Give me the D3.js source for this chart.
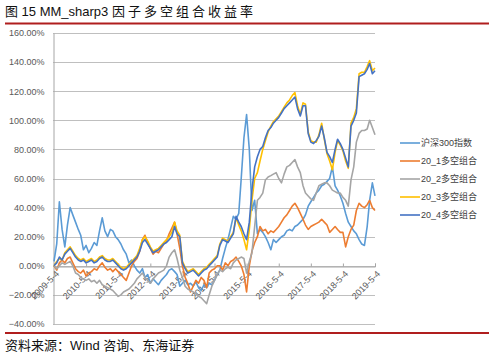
<!DOCTYPE html>
<html>
<head>
<meta charset="utf-8">
<title>MM_sharp3 因子多空组合收益率</title>
<script src="https://cdnjs.cloudflare.com/ajax/libs/d3/7.8.5/d3.min.js"></script>
<style>
    body { margin: 0; background: #fff; }
    svg { display: block; }
    .cn { font-family: "Liberation Sans", Arial, "Noto Sans CJK SC", sans-serif; }
</style>
</head>
<body>
<div id="chart"></div>
<script>
// monthly readings, starting 2009-5-4 (values in %)
const startDate = new Date(2009, 4, 4);
const endDate = new Date(2019, 4, 4);
const seriesNames = ['沪深300指数', '20_1多空组合', '20_2多空组合', '20_3多空组合', '20_4多空组合'];
const seriesColors = ['#5B9BD5', '#ED7D31', '#A5A5A5', '#FFC000', '#4472C4'];
const yTicks = [-40, -20, 0, 20, 40, 60, 80, 100, 120, 140, 160];
const xTickLabels = ['2009-5-4', '2010-5-4', '2011-5-4', '2012-5-4', '2013-5-4', '2014-5-4',
                     '2015-5-4', '2016-5-4', '2017-5-4', '2018-5-4', '2019-5-4'];

const hs300 = [3, 15, 44, 25, 13, 28, 40, 35, 30, 25, 21, 11, 14, 9, 12, 16, 14, 24, 33, 24,
    20, 25, 24, 20, 18, 15, 11, 8, 2, 4, 0, -3, -5, -2, -8, -6, -12, -9, -11, -13,
    -10, -8, -6, -3, -2, -4, -6, -14, -12, -10, -13, -12, -14, -11, -15, -17, -13, -15, -12, -13,
    -10, -6, -3, 5, 12, 18, 26, 34, 32, 36, 60, 88, 104, 80, 38, 45, 22, 25, 23, 20,
    16, 11, 18, 16, 18, 20, 21, 24, 25, 24, 27, 28, 30, 32, 35, 41, 44, 47, 50, 52,
    55, 56, 58, 60, 68, 55, 52, 48, 43, 36, 30, 27, 24, 22, 18, 15, 14, 27, 45, 57, 48];

const ls1 = [0, -3, 2, 4, 2, 5, 6, 2, -2, -4, -5, -3, -7, -5, -4, -2, -3, 0, 2, -1,
    -3, -2, -4, -2, -4, -6, -8, -10, -5, 0, 3, 5, 10, 18, 21, 16, 12, 8, 10, 9,
    12, 15, 17, 22, 26, 30, 22, 12, 0, -8, -12, -18, -14, -10, -12, -8, -10, -15, -5, -3,
    -2, 0, 0, -3, 2, 0, 3, 4, 6, 3, 0, -6, -18, 0, 10, 16, 20, 27, 24, 25,
    22, 24, 23, 25, 27, 30, 33, 35, 38, 41, 43, 40, 36, 32, 28, 25, 27, 28, 29, 30,
    32, 30, 28, 23, 25, 27, 25, 23, 23, 13, 20, 25, 28, 38, 43, 41, 40, 42, 45, 40, 38];

const ls2 = [0, -2, 0, 2, 1, 2, 3, 0, -5, -6, -8, -9, -10, -9, -11, -10, -12, -10, -13, -14,
    -15, -16, -17, -19, -21, -20, -18, -17, -16, -14, -12, -9, -7, -5, -8, -10, -12, -9, -7, -5,
    -4, -3, 0, 6, 9, 11, 5, -3, -8, -14, -16, -17, -18, -19, -21, -22, -24, -26, -20, -14,
    -10, -6, -3, -4, -2, -1, -2, 2, 4, 5, 6, 5, -5, 3, 9, 27, 45, 47, 50, 59,
    61, 62, 63, 64, 60, 57, 63, 68, 69, 71, 73, 68, 64, 55, 50, 48, 46, 45, 50, 55,
    56, 57, 57, 55, 52, 51, 50, 50, 47, 45, 41, 59, 68, 85, 91, 93, 93, 94, 100, 95, 90];

const ls3 = [0, 3, 5, 4, 9, 11, 13, 10, 7, 5, 4, 5, 3, 4, 5, 3, 4, 6, 7, 5,
    4, 4, 5, 3, 1, -1, -2, -1, 1, 3, 5, 7, 12, 18, 20, 17, 13, 10, 11, 12,
    14, 16, 18, 20, 23, 30, 24, 21, 3, -1, -4, -3, -2, -4, -6, -4, -2, -1, 1, 3,
    5, 7, 15, 19, 18, 17, 20, 23, 33, 28, 24, 18, 11, 25, 45, 60, 64, 72, 80, 86,
    92, 96, 99, 101, 103, 106, 109, 112, 114, 117, 119, 110, 104, 112, 111, 92, 86, 85, 85, 90,
    98, 87, 77, 72, 66, 78, 86, 83, 79, 72, 67, 98, 102, 108, 132, 133, 133, 137, 141, 134, 136];

const ls4 = [0, 2, 6, 4, 8, 10, 12, 9, 6, 4, 3, 4, 2, 3, 4, 2, 3, 5, 6, 4,
    3, 3, 4, 2, 0, -2, -3, -2, 0, 2, 4, 6, 10, 16, 18, 15, 12, 9, 10, 11,
    13, 15, 16, 18, 20, 27, 22, 20, 2, -2, -5, -4, -3, -5, -7, -5, -3, -2, 0, 2,
    4, 6, 14, 18, 17, 16, 19, 22, 34, 30, 27, 22, 18, 30, 52, 68, 75, 80, 82, 88,
    93, 95, 98, 100, 102, 105, 108, 110, 112, 114, 116, 108, 103, 110, 110, 91, 85, 84, 86, 89,
    96, 88, 78, 75, 71, 80, 87, 84, 80, 74, 68, 96, 100, 105, 130, 131, 132, 135, 139, 132, 134];

const allSeries = [hs300, ls1, ls2, ls3, ls4];

const W = 494, H = 362;
const svg = d3.select('#chart').append('svg')
    .attr('width', W)
    .attr('height', H)
    .attr('class', 'cn');

// title + red rules
const title = svg.append('text')
    .attr('x', 5).attr('y', 16)
    .style('font-size', '13px')
    .attr('fill', '#111');
title.append('tspan').text('图 15 MM_sharp3 ');
title.append('tspan').style('letter-spacing', '3px').text('因子多空组合收益率');

svg.append('line')
    .attr('x1', 5).attr('x2', 489).attr('y1', 23.5).attr('y2', 23.5)
    .attr('stroke', '#B01E1E').attr('stroke-width', 2);
svg.append('line')
    .attr('x1', 5).attr('x2', 489).attr('y1', 333).attr('y2', 333)
    .attr('stroke', '#B01E1E').attr('stroke-width', 2);
svg.append('text')
    .attr('x', 5).attr('y', 350)
    .style('font-size', '13px')
    .attr('fill', '#111')
    .text('资料来源：Wind 咨询、东海证券');

// scales
const x = d3.scaleTime().domain([startDate, endDate]).range([54, 375]);
const y = d3.scaleLinear().domain([-40, 160]).range([324, 33]);

// gridlines
svg.append('g')
    .selectAll('line')
    .data(yTicks)
    .join('line')
        .attr('x1', 53).attr('x2', 375)
        .attr('y1', d => Math.round(y(d)) + 0.5)
        .attr('y2', d => Math.round(y(d)) + 0.5)
        .attr('stroke', '#BFBFBF')
        .attr('stroke-width', 1);

// y axis
const yAxis = svg.append('g')
    .attr('transform', 'translate(53.5,0)')
    .call(d3.axisLeft(y).tickValues(yTicks).tickSize(0).tickPadding(9)
        .tickFormat(d => d3.format('.2f')(d) + '%'));
yAxis.select('.domain').attr('stroke', '#A6A6A6');
yAxis.selectAll('text')
    .style('font-size', '9px')
    .style('font-family', '"Liberation Sans", Arial, sans-serif')
    .attr('fill', '#595959');

// x axis on the 0% line
const xDates = xTickLabels.map(s => {
    const p = s.split('-').map(Number);
    return new Date(p[0], p[1] - 1, p[2]);
});
const xAxis = svg.append('g')
    .attr('transform', `translate(0,${Math.round(y(0)) + 0.5})`)
    .call(d3.axisBottom(x).tickValues(xDates).tickSize(-3).tickPadding(4)
        .tickFormat((d, i) => xTickLabels[i]));
xAxis.select('.domain').attr('stroke', '#A6A6A6');
xAxis.selectAll('.tick line').attr('stroke', '#A6A6A6');
xAxis.selectAll('text')
    .style('font-size', '9px')
    .style('font-family', '"Liberation Sans", Arial, sans-serif')
    .attr('fill', '#595959')
    .style('text-anchor', 'end')
    .attr('dx', '-0.2em')
    .attr('dy', '0.6em')
    .attr('transform', 'rotate(-45)');

// series lines
const line = d3.line()
    .x((d, i) => x(d3.timeMonth.offset(startDate, i)))
    .y(d => y(d));

svg.append('g')
    .selectAll('path')
    .data(allSeries)
    .join('path')
        .attr('fill', 'none')
        .attr('stroke', (d, i) => seriesColors[i])
        .attr('stroke-width', 1.6)
        .attr('stroke-linejoin', 'round')
        .attr('d', line);

// legend
const legend = svg.append('g')
    .selectAll('g')
    .data(seriesNames)
    .join('g')
        .attr('transform', (d, i) => `translate(400,${143 + i * 18})`);
legend.append('line')
    .attr('x1', 0).attr('x2', 20)
    .attr('stroke', (d, i) => seriesColors[i])
    .attr('stroke-width', 1.6);
legend.append('text')
    .attr('x', 21).attr('dy', '0.35em')
    .style('font-size', '9px')
    .attr('fill', '#404040')
    .text(d => d);
</script>
</body>
</html>
